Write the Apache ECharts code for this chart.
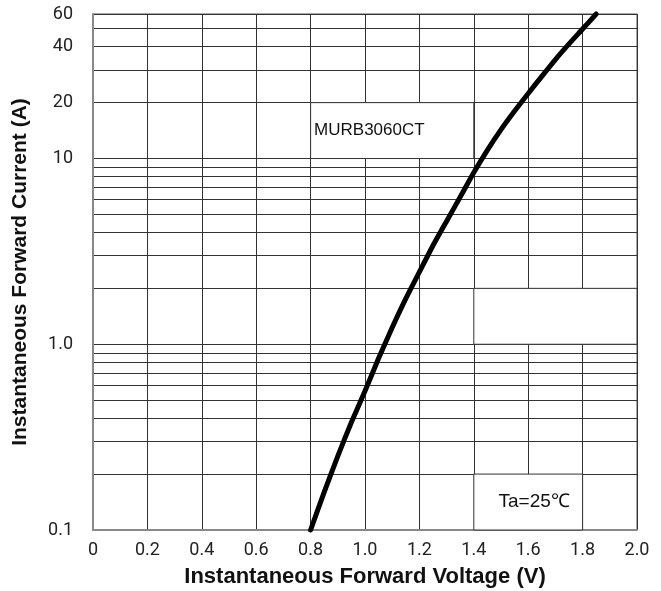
<!DOCTYPE html>
<html><head><meta charset="utf-8">
<script src="https://cdn.jsdelivr.net/npm/echarts@6/dist/echarts.min.js"></script>
<style>html,body{margin:0;padding:0;background:#fff}#c{width:661px;height:591px}</style>
</head><body><div id="c"></div>
<script>
// Forward voltage (V) and forward current (A)
const voltage = [0.80, 0.85, 0.90, 0.95, 1.00, 1.05, 1.10, 1.15, 1.20, 1.25, 1.30, 1.35, 1.40, 1.45, 1.50, 1.55, 1.60, 1.65, 1.70, 1.75, 1.80, 1.85];
const current = [0.10, 0.16, 0.25, 0.38, 0.56, 0.84, 1.23, 1.76, 2.45, 3.4, 4.6, 6.2, 8.4, 11.1, 14.3, 18.0, 22.4, 27.7, 34.1, 41.4, 49.8, 60];
// Axis ticks / grid values
const xTicks = [0, 0.2, 0.4, 0.6, 0.8, 1.0, 1.2, 1.4, 1.6, 1.8, 2.0];
const yLabelValues = [0.1, 1, 10, 20, 40, 60];
const yGridValues = [0.1, 0.2, 0.3, 0.4, 0.5, 0.6, 0.7, 0.8, 0.9, 1, 2, 3, 4, 5, 6, 7, 8, 9, 10, 20, 30, 40, 50, 60];
// Texts
const xTitle = 'Instantaneous Forward Voltage (V)';
const yTitle = 'Instantaneous Forward Current (A)';
const partLabel = 'MURB3060CT';
const tempLabel = 'Ta=25\u2103';

const tickFont = 'Roboto,"Liberation Sans",sans-serif';
const sans = '"Liberation Sans",Arial,sans-serif';
const gridColor = '#333';

const chart = echarts.init(document.getElementById('c'), null, {renderer: 'canvas'});
chart.setOption({
  animation: false,
  backgroundColor: '#fff',
  grid: {left: 93, right: 24, top: 14, bottom: 61, show: true, borderColor: '#555', borderWidth: 1,
    containLabel: false, outerBoundsMode: 'none'},
  xAxis: {
    type: 'value', min: xTicks[0], max: xTicks[xTicks.length - 1], interval: 0.2,
    name: xTitle, nameLocation: 'middle', nameGap: 36,
    nameTextStyle: {fontFamily: sans, fontWeight: 'bold', fontSize: 22, color: '#111'},
    axisLine: {show: true, lineStyle: {color: '#888', width: 2}},
    axisTick: {show: false},
    axisLabel: {margin: 11, fontFamily: tickFont, fontSize: 18, color: '#222',
      formatter: v => v === 0 ? '0' : v.toFixed(1)},
    splitLine: {show: true, lineStyle: {color: gridColor, width: 1}}
  },
  yAxis: {
    type: 'log', logBase: 10, min: 0.1, max: 60,
    name: yTitle, nameLocation: 'middle', nameGap: 62,
    nameTextStyle: {fontFamily: sans, fontWeight: 'bold', fontSize: 21, color: '#111'},
    axisLine: {show: true, lineStyle: {color: '#888', width: 2}},
    axisTick: {show: false, customValues: yGridValues},
    axisLabel: {margin: 20, fontFamily: tickFont, fontSize: 18, color: '#222',
      customValues: yLabelValues,
      formatter: v => (Math.abs(v - 1) < 1e-9 ? '1.0' : String(+v.toPrecision(3)))},
    splitLine: {show: true, lineStyle: {color: gridColor, width: 1}}
  },
  series: [{
    type: 'line',
    data: voltage.map((v, i) => [v, current[i]]),
    showSymbol: false,
    smooth: 0.2,
    clip: false,
    z: 5,
    lineStyle: {color: '#000', width: 5, cap: 'round', join: 'round'},
    markArea: {
      silent: true,
      itemStyle: {color: '#fff', borderColor: gridColor, borderWidth: 1},
      label: {color: '#111', fontFamily: sans},
      data: [
        [{name: partLabel, coord: [0.8, 10], label: {position: 'insideLeft', distance: 4, fontSize: 17}}, {coord: [1.4, 20]}],
        [{name: '', coord: [1.4, 1]}, {coord: [2.0, 2]}],
        [{name: tempLabel, coord: [1.4, 0.1], label: {position: 'inside', fontSize: 19, offset: [6, 0]}}, {coord: [1.8, 0.2]}]
      ]
    }
  }]
});
</script>
</body></html>
